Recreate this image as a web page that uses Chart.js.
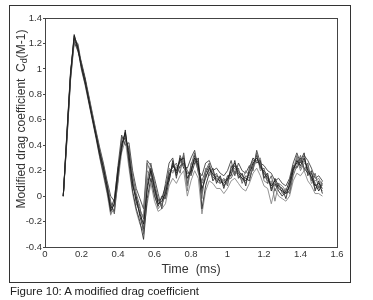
<!DOCTYPE html>
<html>
<head>
<meta charset="utf-8">
<script src="https://cdn.jsdelivr.net/npm/chart.js@4.4.0/dist/chart.umd.min.js"></script>
<style>
  body { margin: 0; background: #fff; font-family: 'Liberation Sans', Arial, sans-serif; }
  #wrap { position: relative; width: 373px; height: 300px; overflow: hidden; }
  #frame { position: absolute; left: 9px; top: 5px; width: 340px; height: 276px; border: 1.5px solid #333; }
  #chart { position: absolute; left: 0; top: 0; }
  #caption { position: absolute; left: 10px; top: 285px; font-size: 11.5px; color: #222; }
</style>
</head>
<body>
<div id="wrap">
  <div id="frame"></div>
  <canvas id="chart" width="373" height="300"></canvas>
  <div id="caption">Figure 10: A modified drag coefficient</div>
</div>
<script>
// time axis (ms), shared by all runs
const times = [
  0.10, 0.12, 0.14, 0.16, 0.18, 0.20, 0.22, 0.24, 0.26, 0.28, 0.30, 0.32,
  0.34, 0.36, 0.38, 0.40, 0.42, 0.44, 0.46, 0.48, 0.50, 0.52, 0.54, 0.56,
  0.58, 0.60, 0.62, 0.64, 0.66, 0.68, 0.70, 0.72, 0.74, 0.76, 0.78, 0.80,
  0.82, 0.84, 0.86, 0.88, 0.90, 0.92, 0.94, 0.96, 0.98, 1.00, 1.02, 1.04,
  1.06, 1.08, 1.10, 1.12, 1.14, 1.16, 1.18, 1.20, 1.22, 1.24, 1.26, 1.28,
  1.30, 1.32, 1.34, 1.36, 1.38, 1.40, 1.42, 1.44, 1.46, 1.48, 1.50, 1.52
];

// modified drag coefficient, one array per run
const run1 = [
  0, 0.48, 0.95, 1.26, 1.17, 1.02, 0.90, 0.76, 0.62, 0.48, 0.34, 0.22,
  0.08, -0.12, -0.06, 0.18, 0.40, 0.50, 0.32, 0.10, -0.04, -0.14, -0.22, 0.05,
  0.20, 0.06, -0.06, -0.04, 0.02, 0.16, 0.24, 0.20, 0.28, 0.30, 0.14, 0.20,
  0.30, 0.24, 0.06, 0.14, 0.22, 0.17, 0.14, 0.12, 0.10, 0.13, 0.20, 0.24,
  0.18, 0.14, 0.12, 0.18, 0.26, 0.30, 0.24, 0.18, 0.14, 0.08, 0.12, 0.06,
  0.04, 0.02, 0.08, 0.20, 0.28, 0.24, 0.30, 0.20, 0.15, 0.08, 0.10, 0.06
];
const run2 = [
  0, 0.45, 0.92, 1.22, 1.20, 1.04, 0.91, 0.78, 0.63, 0.50, 0.36, 0.24,
  0.10, -0.04, -0.14, 0.14, 0.46, 0.44, 0.38, 0.16, 0.02, -0.08, -0.30, 0.12,
  0.26, 0.10, -0.02, -0.08, 0.06, 0.20, 0.22, 0.26, 0.18, 0.34, 0.10, 0.24,
  0.34, 0.18, 0.12, 0.20, 0.26, 0.14, 0.18, 0.10, 0.14, 0.08, 0.24, 0.18,
  0.22, 0.10, 0.16, 0.14, 0.22, 0.34, 0.20, 0.22, 0.10, 0.16, 0.04, 0.10,
  0.02, 0.06, 0.02, 0.16, 0.24, 0.32, 0.20, 0.26, 0.12, 0.18, 0.06, 0.12
];
const run3 = [
  0, 0.50, 0.98, 1.24, 1.15, 1.00, 0.88, 0.74, 0.60, 0.46, 0.31, 0.18,
  0.04, -0.10, -0.02, 0.22, 0.36, 0.52, 0.26, 0.04, -0.10, -0.20, -0.34, -0.02,
  0.14, 0.00, -0.08, 0.00, -0.02, 0.12, 0.28, 0.16, 0.24, 0.26, 0.20, 0.16,
  0.26, 0.30, -0.10, 0.08, 0.18, 0.22, 0.10, 0.16, 0.06, 0.16, 0.16, 0.28,
  0.14, 0.18, 0.08, 0.22, 0.30, 0.26, 0.28, 0.14, 0.18, 0.04, 0.14, 0.08,
  0.06, -0.02, 0.10, 0.24, 0.22, 0.28, 0.34, 0.16, 0.20, 0.04, 0.12, 0.02
];
const run4 = [
  0, 0.46, 0.94, 1.25, 1.19, 1.01, 0.89, 0.77, 0.64, 0.49, 0.35, 0.20,
  0.06, -0.14, -0.10, 0.10, 0.44, 0.48, 0.30, 0.14, -0.06, -0.12, -0.16, 0.20,
  0.16, 0.02, -0.10, -0.06, 0.04, 0.22, 0.18, 0.24, 0.22, 0.28, 0.04, 0.26,
  0.28, 0.20, -0.02, 0.22, 0.16, 0.20, 0.12, 0.14, 0.12, 0.10, 0.18, 0.22,
  0.16, 0.12, 0.20, 0.16, 0.22, 0.28, 0.30, 0.12, 0.10, 0.12, -0.04, 0.10,
  0.08, 0.04, 0.06, 0.18, 0.30, 0.20, 0.26, 0.24, 0.10, 0.12, 0.14, 0.08
];
const run5 = [
  0, 0.47, 0.96, 1.27, 1.16, 1.03, 0.92, 0.75, 0.61, 0.47, 0.33, 0.21,
  0.06, -0.08, -0.12, 0.20, 0.42, 0.46, 0.36, 0.08, 0.00, -0.16, -0.26, 0.08,
  0.22, 0.08, -0.04, -0.02, 0.08, 0.12, 0.26, 0.18, 0.30, 0.22, 0.18, 0.18,
  0.32, 0.26, 0.02, 0.18, 0.24, 0.12, 0.16, 0.14, 0.08, 0.12, 0.22, 0.26,
  0.20, 0.16, 0.14, 0.12, 0.24, 0.32, 0.22, 0.20, 0.16, 0.06, 0.10, 0.04,
  0.00, 0.04, 0.12, 0.22, 0.26, 0.30, 0.22, 0.18, 0.18, 0.10, 0.04, 0.10
];
const run6 = [
  0, 0.44, 0.93, 1.23, 1.18, 1.02, 0.90, 0.77, 0.62, 0.48, 0.35, 0.23,
  0.09, -0.06, -0.08, 0.16, 0.38, 0.50, 0.28, 0.12, -0.02, -0.10, -0.18, 0.26,
  0.18, 0.04, -0.06, -0.06, 0.00, 0.18, 0.20, 0.22, 0.26, 0.32, 0.08, 0.22,
  0.28, 0.22, 0.10, 0.16, 0.20, 0.18, 0.12, 0.10, 0.12, 0.14, 0.14, 0.20,
  0.16, 0.14, 0.10, 0.20, 0.28, 0.28, 0.26, 0.16, 0.12, 0.10, 0.08, 0.08,
  0.06, 0.02, 0.04, 0.20, 0.32, 0.22, 0.28, 0.22, 0.14, 0.06, 0.08, 0.04
];
const run7 = [
  0, 0.49, 0.97, 1.21, 1.14, 1.05, 0.93, 0.79, 0.65, 0.51, 0.38, 0.26,
  0.12, 0.00, -0.04, 0.24, 0.48, 0.40, 0.42, 0.20, 0.06, -0.02, -0.10, 0.28,
  0.24, 0.14, 0.02, -0.10, 0.10, 0.26, 0.30, 0.14, 0.32, 0.24, 0.22, 0.30,
  0.36, 0.20, 0.16, 0.26, 0.28, 0.20, 0.22, 0.18, 0.16, 0.20, 0.28, 0.16,
  0.26, 0.20, 0.18, 0.24, 0.20, 0.36, 0.26, 0.24, 0.20, 0.18, 0.12, 0.14,
  0.10, 0.08, 0.14, 0.26, 0.34, 0.26, 0.32, 0.28, 0.22, 0.14, 0.16, 0.12
];
const run8 = [
  0, 0.43, 0.91, 1.20, 1.17, 0.99, 0.87, 0.73, 0.59, 0.45, 0.30, 0.16,
  0.02, -0.15, -0.04, 0.12, 0.34, 0.44, 0.22, 0.02, -0.12, -0.22, -0.28, -0.06,
  0.10, -0.04, -0.12, -0.10, -0.06, 0.08, 0.14, 0.10, 0.16, 0.20, 0.00, 0.12,
  0.20, 0.14, -0.14, 0.04, 0.12, 0.10, 0.06, 0.06, 0.02, 0.06, 0.12, 0.14,
  0.10, 0.06, 0.04, 0.10, 0.18, 0.22, 0.16, 0.08, 0.06, -0.06, 0.06, 0.00,
  -0.02, -0.04, 0.00, 0.12, 0.18, 0.16, 0.20, 0.12, 0.08, 0.02, 0.02, 0.00
];

const runs = [run1, run2, run3, run4, run5, run6, run7, run8];
const lineColors = ['#1a1a1a', '#5a5a5a', '#2e2e2e', '#7a7a7a', '#222', '#666', '#444', '#888'];

// frame around the plot area plus the rotated y title with a subscript
const plotExtras = {
  id: 'plotExtras',
  afterDraw(chart) {
    const { ctx, chartArea: a } = chart;
    ctx.save();
    ctx.strokeStyle = '#444';
    ctx.lineWidth = 1;
    ctx.strokeRect(a.left + 0.5, a.top + 0.5, a.right - a.left, a.bottom - a.top);

    ctx.translate(22, 119);
    ctx.rotate(-Math.PI / 2);
    ctx.fillStyle = '#333';
    ctx.textBaseline = 'middle';
    const big = "12px 'Liberation Sans', Arial, sans-serif";
    const small = "9px 'Liberation Sans', Arial, sans-serif";
    const parts = [['Modified drag coefficient  C', big, 0], ['d', small, 3], ['(M-1)', big, 0]];
    let total = 0;
    parts.forEach(p => { ctx.font = p[1]; total += ctx.measureText(p[0]).width; });
    let x = -total / 2;
    parts.forEach(p => {
      ctx.font = p[1];
      ctx.fillText(p[0], x, p[2]);
      x += ctx.measureText(p[0]).width;
    });
    ctx.restore();
  }
};

Chart.defaults.font.family = "'Liberation Sans', Arial, sans-serif";
Chart.defaults.color = '#333';

new Chart(document.getElementById('chart'), {
  type: 'line',
  data: {
    datasets: runs.map((r, i) => ({
      data: r.map((v, j) => ({ x: times[j], y: v })),
      borderColor: lineColors[i],
      borderWidth: 0.9,
      pointRadius: 0,
      tension: 0,
      fill: false
    }))
  },
  options: {
    responsive: false,
    animation: false,
    layout: { padding: { left: 0, right: 36, top: 18, bottom: 19 } },
    plugins: { legend: { display: false }, tooltip: { enabled: false } },
    scales: {
      x: {
        type: 'linear',
        min: 0, max: 1.6,
        afterFit: s => { s.height = 34; },
        border: { color: '#444' },
        grid: { drawOnChartArea: false, tickLength: 1, tickColor: '#444' },
        ticks: { stepSize: 0.2, padding: 1, font: { size: 9.5 }, callback: v => +v.toFixed(1) },
        title: { display: true, text: 'Time  (ms)', font: { size: 12.5 }, padding: { top: 0 } }
      },
      y: {
        min: -0.4, max: 1.4,
        afterFit: s => { s.width = 45; },
        border: { color: '#444' },
        grid: {
          color: c => (c.tick && c.tick.value === 0 ? '#222' : 'transparent'),
          tickLength: 2,
          tickColor: '#444'
        },
        ticks: { stepSize: 0.2, padding: 1, font: { size: 9.5 }, callback: v => +v.toFixed(1) }
      }
    }
  },
  plugins: [plotExtras]
});
</script>
</body>
</html>
